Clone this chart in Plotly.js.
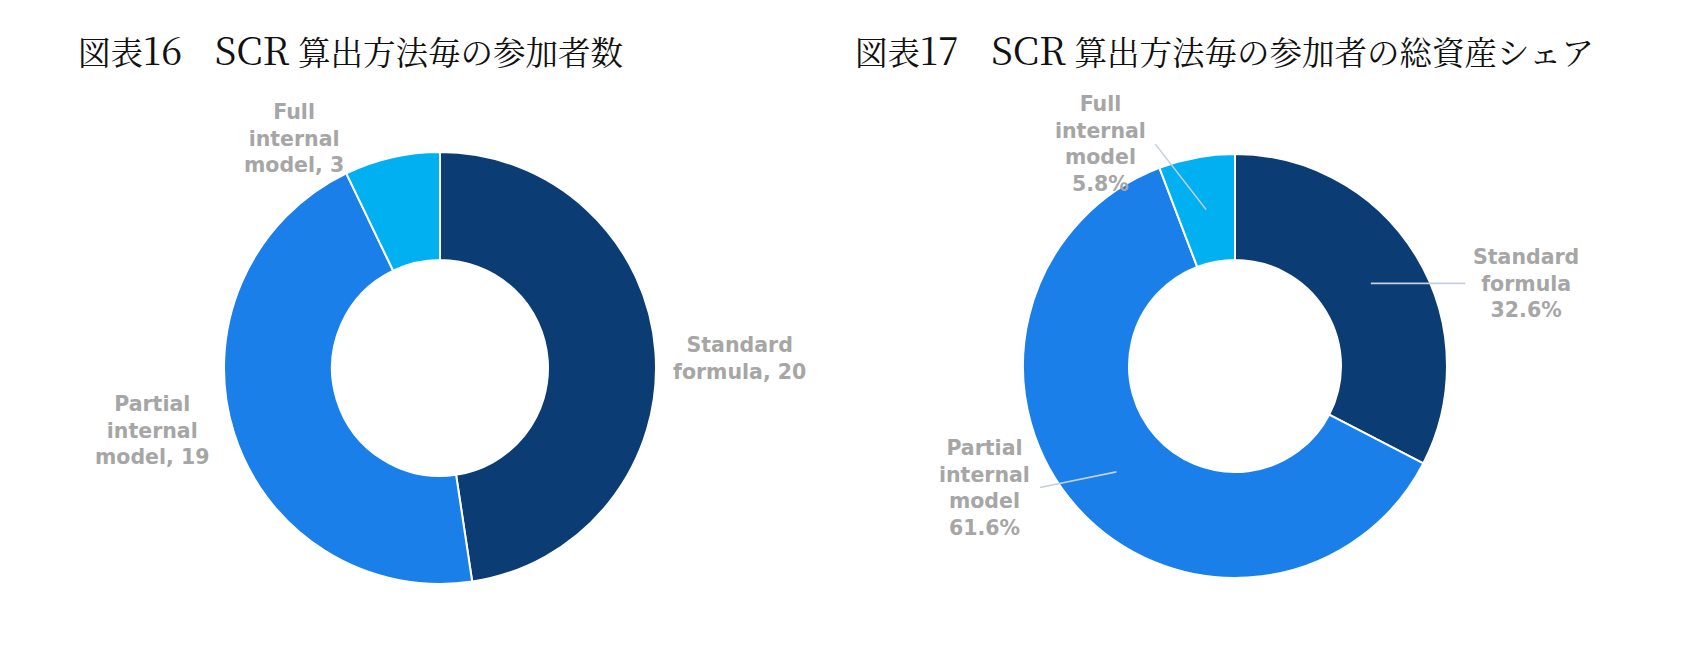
<!DOCTYPE html>
<html>
<head>
<meta charset="utf-8">
<script src="https://cdn.plot.ly/plotly-3.0.1.min.js"></script>
<style>
  html, body { margin: 0; padding: 0; background: #fff; }
  #chart { width: 1706px; height: 661px; }
</style>
</head>
<body>
<div id="chart"></div>
<script>
// data
const sliceNames = ['Standard<br>formula', 'Partial<br>internal<br>model', 'Full<br>internal<br>model'];
const counts = [20, 19, 3];          // 図表16: number of participants
const assetShare = [32.6, 61.6, 5.8]; // 図表17: share of total assets (%)
const sliceColors = ['#0c3c74', '#1b7fe9', '#00b0f0'];
const titles = ['図表16　SCR 算出方法毎の参加者数', '図表17　SCR 算出方法毎の参加者の総資産シェア'];

const W = 1706, H = 661;
// pie geometry in pixels (centre x, centre y, radius)
const pies = [
  {cx: 440, cy: 368, r: 216},
  {cx: 1235, cy: 366, r: 212}
];
const hole = 0.5;

function domainOf(p) {
  return {
    x: [(p.cx - p.r) / W, (p.cx + p.r) / W],
    y: [1 - (p.cy + p.r) / H, 1 - (p.cy - p.r) / H]
  };
}

// mid angle of each slice, clockwise from 12 o'clock
function midAngles(vals) {
  const tot = vals.reduce((a, b) => a + b, 0);
  let cum = 0;
  return vals.map(v => {
    const a = (cum + v / 2) / tot * 2 * Math.PI;
    cum += v;
    return a;
  });
}

// point in the middle of the ring, in paper coords
function ringPoint(p, a) {
  const rm = p.r * (1 + hole) / 2;
  return {x: (p.cx + rm * Math.sin(a)) / W, y: 1 - (p.cy - rm * Math.cos(a)) / H};
}

const labelFont = {family: '"DejaVu Sans", Verdana, sans-serif', size: 20.5, color: '#a6a6a6', weight: 700};

var trace1 = {
  type: 'pie',
  values: counts,
  labels: sliceNames.map(s => s.replace(/<br>/g, ' ')),
  marker: {colors: sliceColors, line: {color: '#ffffff', width: 2}},
  hole: hole,
  sort: false,
  direction: 'clockwise',
  rotation: 0,
  textinfo: 'none',
  hoverinfo: 'label+value',
  domain: domainOf(pies[0])
};
var trace2 = {
  type: 'pie',
  values: assetShare,
  labels: sliceNames.map(s => s.replace(/<br>/g, ' ')),
  marker: {colors: sliceColors, line: {color: '#ffffff', width: 2}},
  hole: hole,
  sort: false,
  direction: 'clockwise',
  rotation: 0,
  textinfo: 'none',
  hoverinfo: 'label+value',
  domain: domainOf(pies[1])
};

let annotations = [];

// titles: latin letters and digits are set a bit larger than the kanji
const titleX = [76, 853];
titles.forEach((t, i) => {
  annotations.push({
    xref: 'paper', yref: 'paper', x: titleX[i] / W, y: 1 - 48 / H,
    xanchor: 'left', yanchor: 'middle', showarrow: false,
    text: t.replace(/([A-Za-z0-9]+)/g, '<span style="font-size:38px">$1</span>'),
    font: {family: '"Noto Serif CJK JP", "Liberation Serif", "Noto Sans CJK JP", serif', size: 32.5, color: '#111111'}
  });
});

// chart 1 labels: shifted out from the slice middle
const shift1 = [[138, -3], [-133, -15], [-110, 72]];
midAngles(counts).forEach((a, i) => {
  const pt = ringPoint(pies[0], a);
  annotations.push({
    xref: 'paper', yref: 'paper', x: pt.x, y: pt.y,
    xanchor: 'center', yanchor: 'middle',
    xshift: shift1[i][0], yshift: shift1[i][1],
    showarrow: false, align: 'center',
    text: sliceNames[i] + ', ' + counts[i],
    font: labelFont
  });
});

// chart 2 labels with leader lines
const lead2 = [[96, 0], [-78, 16], [-52, -67]];
const shift2 = [[155, 0], [-132, -16], [-106, 66]];
midAngles(assetShare).forEach((a, i) => {
  const pt = ringPoint(pies[1], a);
  annotations.push({
    xref: 'paper', yref: 'paper', x: pt.x, y: pt.y,
    text: '', showarrow: true, arrowhead: 0, arrowwidth: 1.6,
    arrowcolor: '#c6cfdb', standoff: 0, startstandoff: 0,
    ax: lead2[i][0], ay: lead2[i][1]
  });
  annotations.push({
    xref: 'paper', yref: 'paper', x: pt.x, y: pt.y,
    xanchor: 'center', yanchor: 'middle',
    xshift: shift2[i][0], yshift: shift2[i][1],
    showarrow: false, align: 'center',
    text: sliceNames[i] + '<br>' + assetShare[i].toFixed(1) + '%',
    font: labelFont
  });
});

var layout = {
  width: W,
  height: H,
  margin: {l: 0, r: 0, t: 0, b: 0},
  paper_bgcolor: '#ffffff',
  showlegend: false,
  annotations: annotations
};

Plotly.newPlot('chart', [trace1, trace2], layout, {displayModeBar: false, staticPlot: true});
</script>
</body>
</html>
